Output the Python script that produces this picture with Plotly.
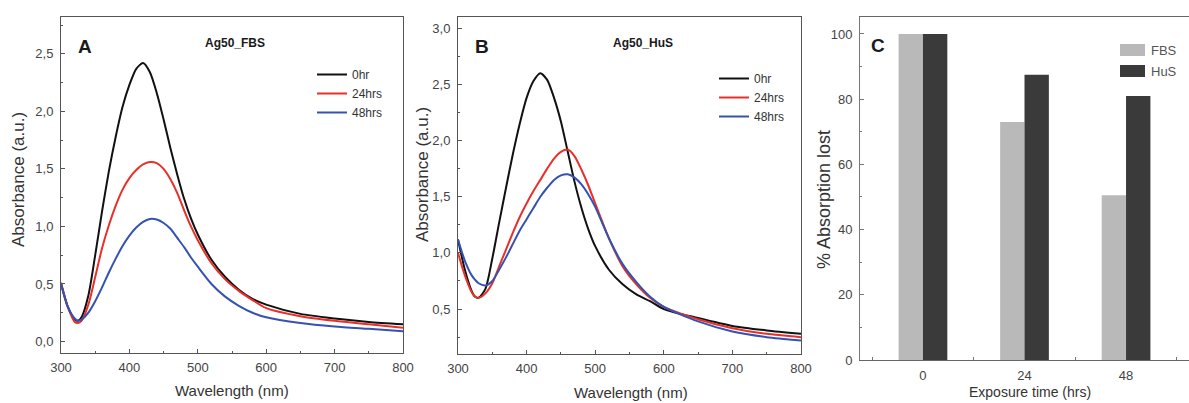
import plotly.graph_objects as go

# ---------------- data ----------------
wavelength = [300, 310, 320, 325, 330, 340, 350, 360, 370, 380, 390, 400, 410, 420, 430,
              440, 450, 460, 470, 480, 490, 500, 520, 540, 560, 580, 600, 650, 700, 750, 800]

fbs_0hr = [0.51, 0.30, 0.19, 0.18, 0.21, 0.40, 0.75, 1.13, 1.48, 1.78, 2.04, 2.23, 2.37, 2.42, 2.34,
           2.16, 1.93, 1.68, 1.45, 1.24, 1.07, 0.93, 0.71, 0.56, 0.45, 0.37, 0.32, 0.24, 0.20, 0.17, 0.15]
fbs_24hrs = [0.50, 0.30, 0.17, 0.16, 0.18, 0.32, 0.56, 0.81, 1.01, 1.18, 1.32, 1.42, 1.49, 1.54, 1.56,
             1.55, 1.50, 1.41, 1.29, 1.14, 1.00, 0.88, 0.68, 0.54, 0.44, 0.36, 0.29, 0.22, 0.18, 0.15, 0.12]
fbs_48hrs = [0.50, 0.30, 0.20, 0.18, 0.19, 0.25, 0.35, 0.47, 0.60, 0.72, 0.83, 0.92, 0.99, 1.04, 1.065,
             1.06, 1.03, 0.98, 0.90, 0.82, 0.73, 0.65, 0.50, 0.39, 0.31, 0.25, 0.21, 0.16, 0.13, 0.11, 0.09]

hus_0hr = [1.12, 0.85, 0.66, 0.61, 0.60, 0.68, 0.95, 1.27, 1.58, 1.88, 2.15, 2.38, 2.53, 2.60, 2.54,
           2.38, 2.17, 1.90, 1.63, 1.40, 1.21, 1.06, 0.85, 0.72, 0.63, 0.57, 0.50, 0.42, 0.35, 0.31, 0.28]
hus_24hrs = [1.00, 0.80, 0.65, 0.61, 0.60, 0.64, 0.73, 0.88, 1.03, 1.18, 1.32, 1.44, 1.55, 1.65, 1.75,
             1.84, 1.90, 1.92, 1.86, 1.74, 1.60, 1.44, 1.13, 0.88, 0.72, 0.60, 0.52, 0.41, 0.33, 0.28, 0.25]
hus_48hrs = [1.12, 0.93, 0.80, 0.76, 0.73, 0.71, 0.75, 0.85, 0.96, 1.08, 1.20, 1.30, 1.40, 1.50, 1.58,
             1.65, 1.69, 1.70, 1.67, 1.61, 1.52, 1.41, 1.13, 0.90, 0.74, 0.61, 0.52, 0.39, 0.30, 0.25, 0.22]

series_names = ["0hr", "24hrs", "48hrs"]
series_colors = ["#111111", "#e8302a", "#3552b0"]

exposure_labels = ["0", "24", "48"]
exposure_pos = [0, 1, 2]
bar_names = ["FBS", "HuS"]
bar_colors = ["#b9b9b9", "#3a3a3a"]
fbs_lost = [100, 73, 50.5]
hus_lost = [100, 87.5, 81]

# ---------------- figure ----------------
W, H = 1189, 403
fig = go.Figure()


def px_x(p):
    return p / W


def px_y(p):
    return 1 - p / H


FONT = "Liberation Sans, Arial, sans-serif"
TICKC = "#444444"
LINEC = "#555555"

for ys, name, col in zip([fbs_0hr, fbs_24hrs, fbs_48hrs], series_names, series_colors):
    fig.add_trace(go.Scatter(x=wavelength, y=ys, name=name, mode="lines",
                             line=dict(color=col, width=2, shape="spline", smoothing=0.7),
                             xaxis="x", yaxis="y", legend="legend"))
for ys, name, col in zip([hus_0hr, hus_24hrs, hus_48hrs], series_names, series_colors):
    fig.add_trace(go.Scatter(x=wavelength, y=ys, name=name, mode="lines",
                             line=dict(color=col, width=2, shape="spline", smoothing=0.7),
                             xaxis="x2", yaxis="y2", legend="legend2"))

for ys, name, col in zip([fbs_lost, hus_lost], bar_names, bar_colors):
    fig.add_trace(go.Bar(x=exposure_pos, y=ys, name=name, marker=dict(color=col, line=dict(width=0)),
                         xaxis="x3", yaxis="y3", showlegend=False))

tickfont = dict(family=FONT, size=13, color=TICKC)


def wl_axis(domain, anchor):
    return dict(domain=domain, anchor=anchor, range=[300, 800], dtick=100, tick0=300,
                showline=True, linecolor=LINEC, linewidth=1, mirror=True,
                ticks="inside", ticklen=4, tickcolor=LINEC, ticklabelstandoff=2,
                minor=dict(ticks="inside", ticklen=2, dtick=50, tickcolor=LINEC),
                showgrid=False, zeroline=False, tickfont=tickfont, automargin=False)


def abs_axis(domain, anchor, rng, tick0):
    return dict(domain=domain, anchor=anchor, range=rng, dtick=0.5, tick0=tick0, tickformat=".1f",
                showline=True, linecolor=LINEC, linewidth=1, mirror=True,
                ticks="inside", ticklen=4, tickcolor=LINEC, ticklabelstandoff=4,
                minor=dict(ticks="inside", ticklen=2, dtick=0.25, tickcolor=LINEC),
                showgrid=False, zeroline=False, tickfont=tickfont, automargin=False)


legfont = dict(family=FONT, size=12, color="#333333")
fig.update_layout(
    width=W, height=H, margin=dict(l=0, r=0, t=0, b=0, autoexpand=False),
    paper_bgcolor="white", plot_bgcolor="white",
    separators=", ",
    font=dict(family=FONT, color="#333333"),
    xaxis=wl_axis([px_x(61), px_x(403)], "y"),
    yaxis=abs_axis([px_y(353), px_y(17)], "x", [-0.1, 2.82], 0),
    xaxis2=wl_axis([px_x(458), px_x(801)], "y2"),
    yaxis2=abs_axis([px_y(354), px_y(17)], "x2", [0.1, 3.1], 0.5),
    xaxis3=dict(domain=[px_x(860), 1.0], anchor="y3", range=[-0.62, 2.62],
                tickvals=exposure_pos, ticktext=exposure_labels, ticks="", ticklabelstandoff=3,
                showline=True, linecolor="#666666", linewidth=1, mirror=True,
                minor=dict(ticks="inside", ticklen=3, tick0=0.5, dtick=1, tickcolor="#777777"),
                showgrid=False, zeroline=False, tickfont=tickfont, automargin=False),
    yaxis3=dict(domain=[px_y(360), px_y(17)], anchor="x3", range=[0, 105.2], dtick=20,
                showline=True, linecolor="#777777", linewidth=1,
                ticks="inside", ticklen=4, tickcolor="#777777", ticklabelstandoff=4,
                minor=dict(ticks="inside", ticklen=2, dtick=10, tickcolor="#777777"),
                showgrid=False, zeroline=False, tickfont=tickfont, automargin=False),
    barmode="group", bargap=0.52, bargroupgap=0,
    legend=dict(x=px_x(312), y=px_y(60), xanchor="left", yanchor="top", bgcolor="rgba(0,0,0,0)",
                font=legfont, itemwidth=30),
    legend2=dict(x=px_x(714), y=px_y(64), xanchor="left", yanchor="top", bgcolor="rgba(0,0,0,0)",
                 font=legfont, itemwidth=30),
    showlegend=True,
)

# legend for the bar panel
for i, (name, col) in enumerate(zip(bar_names, bar_colors)):
    yc = 50 + 21 * i
    fig.add_shape(type="rect", xref="paper", yref="paper",
                  x0=px_x(1120), x1=px_x(1145), y0=px_y(yc + 6), y1=px_y(yc - 6),
                  fillcolor=col, line=dict(width=0))
    fig.add_annotation(x=px_x(1149), y=px_y(yc), xref="paper", yref="paper", showarrow=False,
                       xanchor="left", yanchor="middle", text=name,
                       font=dict(family=FONT, size=13, color="#555555"))

ann = [
    ("<b>A</b>", 85, 47, 19, 0), ("<b>Ag50_FBS</b>", 235, 43, 12, 0),
    ("<b>B</b>", 482, 47, 19, 0), ("<b>Ag50_HuS</b>", 643, 43, 12, 0),
    ("<b>C</b>", 878, 46, 19, 0),
    ("Wavelength (nm)", 232, 390, 15, 0),
    ("Wavelength (nm)", 631, 392, 15, 0),
    ("Exposure time (hrs)", 1030, 392, 14, 0),
    ("Absorbance (a.u.)", 18, 180, 17, -90),
    ("Absorbance (a.u.)", 422, 175, 17, -90),
    ("% Absorption lost", 824, 200, 18, -90),
]
for txt, x, y, s, ang in ann:
    fig.add_annotation(x=px_x(x), y=px_y(y), xref="paper", yref="paper", showarrow=False,
                       xanchor="center", yanchor="middle", text=txt, textangle=ang,
                       font=dict(family=FONT, size=s, color="#1a1a1a" if "<b>" in txt else "#333333"))

fig.write_html("out.html")
